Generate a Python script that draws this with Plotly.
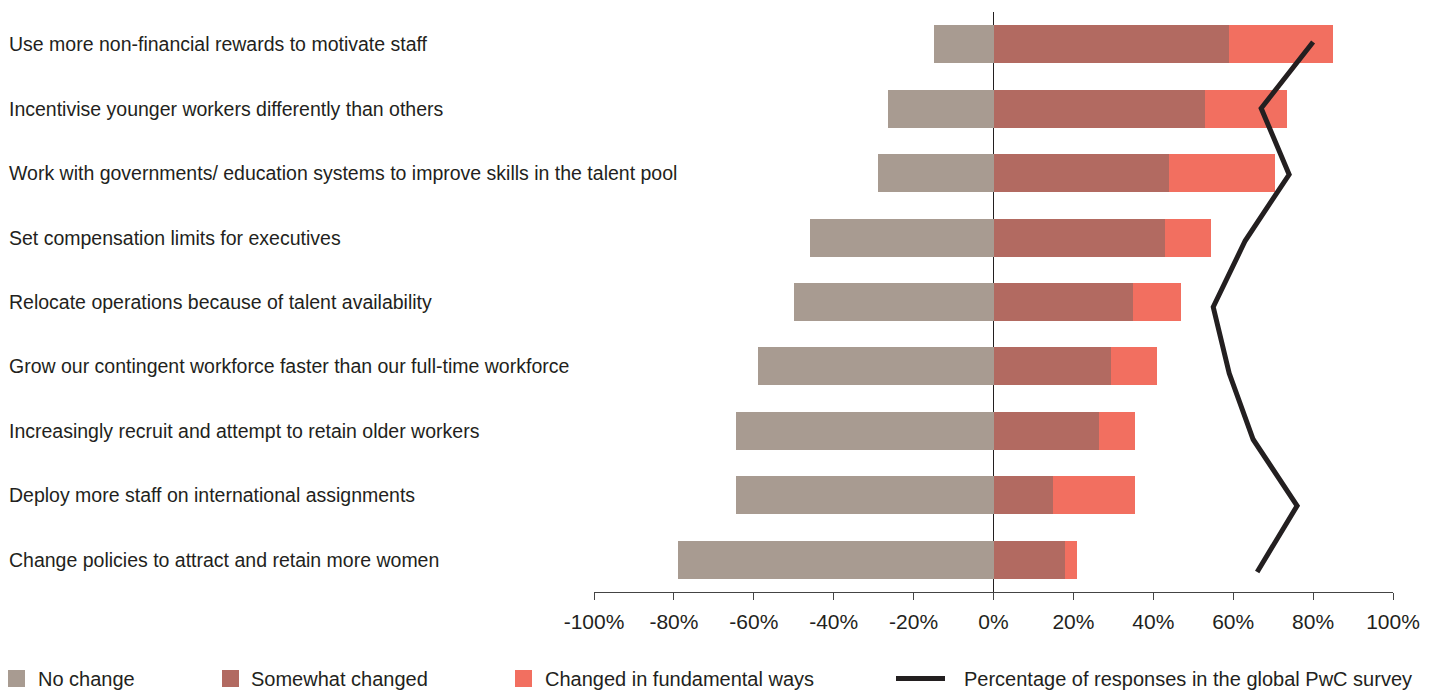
import plotly.graph_objects as go

# Survey responses per strategy (percent of respondents)
categories = [
    "Use more non-financial rewards to motivate staff",
    "Incentivise younger workers differently than others",
    "Work with governments/ education systems to improve skills in the talent pool",
    "Set compensation limits for executives",
    "Relocate operations because of talent availability",
    "Grow our contingent workforce faster than our full-time workforce",
    "Increasingly recruit and attempt to retain older workers",
    "Deploy more staff on international assignments",
    "Change policies to attract and retain more women",
]
no_change = [15, 26.5, 29, 46, 50, 59, 64.5, 64.5, 79]
somewhat_changed = [59, 53, 44, 43, 35, 29.5, 26.5, 15, 18]
fundamental_change = [26, 20.5, 26.5, 11.5, 12, 11.5, 9, 20.5, 3]
global_survey = [80, 67, 74, 63, 55, 59, 65, 76, 66]

tick_values = [-100, -80, -60, -40, -20, 0, 20, 40, 60, 80, 100]
tick_labels = ["-100%", "-80%", "-60%", "-40%", "-20%", "0%", "20%", "40%", "60%", "80%", "100%"]

series_names = ["No change", "Somewhat changed", "Changed in fundamental ways",
                "Percentage of responses in the global PwC survey"]

GREY = "#a89b91"
BROWN = "#b26a61"
CORAL = "#f26f60"
INK = "#231f20"
FONT = "Liberation Sans, Arial, Helvetica, sans-serif"

W, H = 1439, 691
M_L, M_R, M_T, M_B = 594, 46, 12, 99
PW, PH = W - M_L - M_R, H - M_T - M_B


def paper_x(px):
    return (px - M_L) / PW


def paper_y(py):
    return (H - M_B - py) / PH


rows = list(range(len(categories)))

fig = go.Figure()
fig.add_trace(go.Bar(
    y=rows, x=[-v for v in no_change], orientation="h", name=series_names[0],
    marker=dict(color=GREY, line=dict(width=0)), width=0.59, showlegend=False,
))
fig.add_trace(go.Bar(
    y=rows, x=somewhat_changed, orientation="h", name=series_names[1],
    marker=dict(color=BROWN, line=dict(width=0)), width=0.59, showlegend=False,
))
fig.add_trace(go.Bar(
    y=rows, x=fundamental_change, orientation="h", name=series_names[2],
    marker=dict(color=CORAL, line=dict(width=0)), width=0.59, showlegend=False,
))
fig.add_trace(go.Scatter(
    y=rows, x=global_survey, mode="lines", name=series_names[3],
    line=dict(color=INK, width=5), yaxis="y2", showlegend=False,
))

# Strategy labels, left aligned against the page edge
annotations = []
for i, label in enumerate(categories):
    annotations.append(dict(
        x=paper_x(7), xref="paper", xanchor="left",
        y=i, yref="y", yanchor="middle",
        text=label, showarrow=False,
        font=dict(family=FONT, size=19.5, color=INK),
    ))

# Legend row along the bottom
legend_y = 678.5
shapes = []
swatches = [(8, 25, 36, GREY), (222, 239, 249, BROWN), (515, 532, 543, CORAL)]
for (x0, x1, tx, col), name in zip(swatches, series_names[:3]):
    shapes.append(dict(
        type="rect", xref="paper", yref="paper",
        x0=paper_x(x0), x1=paper_x(x1),
        y0=paper_y(legend_y + 8.5), y1=paper_y(legend_y - 8.5),
        fillcolor=col, line=dict(width=0),
    ))
    annotations.append(dict(
        x=paper_x(tx), xref="paper", xanchor="left",
        y=paper_y(legend_y), yref="paper", yanchor="middle",
        text=name, showarrow=False,
        font=dict(family=FONT, size=20, color=INK),
    ))
shapes.append(dict(
    type="line", xref="paper", yref="paper",
    x0=paper_x(896), x1=paper_x(945),
    y0=paper_y(legend_y), y1=paper_y(legend_y),
    line=dict(color=INK, width=5),
))
annotations.append(dict(
    x=paper_x(962), xref="paper", xanchor="left",
    y=paper_y(legend_y), yref="paper", yanchor="middle",
    text=series_names[3], showarrow=False,
    font=dict(family=FONT, size=20, color=INK),
))

fig.update_layout(
    width=W, height=H,
    margin=dict(l=M_L, r=M_R, t=M_T, b=M_B),
    paper_bgcolor="white", plot_bgcolor="white",
    barmode="relative", bargap=0,
    showlegend=False,
    font=dict(family=FONT, color=INK),
    xaxis=dict(
        range=[-100, 100], tickvals=tick_values, ticktext=tick_labels,
        showgrid=False, zeroline=True, zerolinecolor=INK, zerolinewidth=1,
        showline=True, linecolor="#444444", linewidth=1,
        ticks="outside", ticklen=7, tickcolor="#444444", tickwidth=1,
        ticklabelstandoff=4,
        tickfont=dict(family=FONT, size=21, color=INK),
        fixedrange=True,
    ),
    yaxis=dict(
        range=[8.5, -0.5], showticklabels=False, showgrid=False,
        zeroline=False, showline=False, ticks="", fixedrange=True,
    ),
    yaxis2=dict(
        overlaying="y", range=[8.302, -0.453], visible=False,
        showgrid=False, zeroline=False, fixedrange=True,
    ),
    annotations=annotations,
    shapes=shapes,
)

fig.write_html("out.html")
